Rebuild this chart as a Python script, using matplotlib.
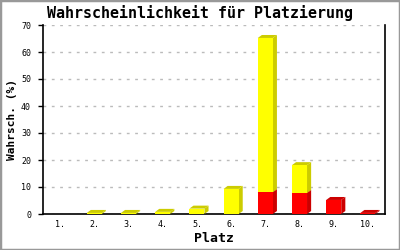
import matplotlib
matplotlib.use("Agg")
import matplotlib.pyplot as plt
from matplotlib.patches import Polygon, Rectangle

# data
plaetze = ["1.", "2.", "3.", "4.", "5.", "6.", "7.", "8.", "9.", "10."]
rot = [0, 0, 0, 0, 0, 0, 8.1, 7.8, 5.2, 0.4]
gelb = [0, 0.4, 0.4, 0.8, 2.0, 9.3, 57.1, 10.3, 0, 0]
y_ticks = [0, 10, 20, 30, 40, 50, 60, 70]

mono = "DejaVu Sans Mono"

fig = plt.figure(figsize=(4, 2.5), dpi=100)
fig.patch.set_facecolor("white")
fig.patches.append(Rectangle((0, 0), 1, 1, transform=fig.transFigure,
                             fill=False, edgecolor="#999999", linewidth=2.5))

ax = fig.add_axes([0.1075, 0.144, 0.855, 0.756])
ax.set_xlim(0.5, 10.5)
ax.set_ylim(0, 70)

# 3d depth in data units (about 4 px right, 3 px up)
dx = 0.12
dy = 1.1
w = 0.44


def bar3d(x, bottom, height, front, side):
    if height <= 0:
        return
    x0 = x - w / 2
    x1 = x + w / 2
    top = bottom + height
    ax.add_patch(Polygon([(x1, bottom), (x1 + dx, bottom + dy), (x1 + dx, top + dy), (x1, top)],
                         closed=True, facecolor=side, edgecolor="none", zorder=3))
    ax.add_patch(Polygon([(x0, top), (x0 + dx, top + dy), (x1 + dx, top + dy), (x1, top)],
                         closed=True, facecolor=side, edgecolor="none", zorder=3))
    ax.bar(x, height, width=w, bottom=bottom, color=front, zorder=4)


for i in range(len(plaetze)):
    x = i + 1
    bar3d(x, 0, rot[i], "#ff0000", "#cc0000")
    bar3d(x, rot[i], gelb[i], "#ffff00", "#cccc00")

ax.set_yticks(y_ticks)
ax.set_yticklabels([str(v) for v in y_ticks], fontsize=6, family=mono)
ax.set_xticks(range(1, len(plaetze) + 1))
ax.set_xticklabels(plaetze, fontsize=6, family=mono)
ax.tick_params(axis="x", length=0, pad=4.5)
ax.tick_params(axis="y", length=3.6, width=1, direction="out", pad=5)
ax.grid(axis="y", linestyle=(0, (2, 4)), color="#bbbbbb", linewidth=1)
ax.set_axisbelow(True)
ax.spines["top"].set_visible(False)
for s in ["left", "right", "bottom"]:
    ax.spines[s].set_linewidth(1.2)

ax.set_xlabel("Platz", fontsize=9.5, family=mono, fontweight="bold")
ax.xaxis.set_label_coords(0.5, -0.127)
ax.xaxis.label.set_va("center")
ax.set_ylabel("Wahrsch. (%)", fontsize=8, family=mono, fontweight="bold")
ax.yaxis.set_label_coords(-0.09, 0.5)
ax.yaxis.label.set_va("center")
fig.text(0.5, 0.948, "Wahrscheinlichkeit für Platzierung", ha="center", va="center",
         fontsize=10.8, family=mono, fontweight="bold")

fig.savefig("out.png", dpi=100)
